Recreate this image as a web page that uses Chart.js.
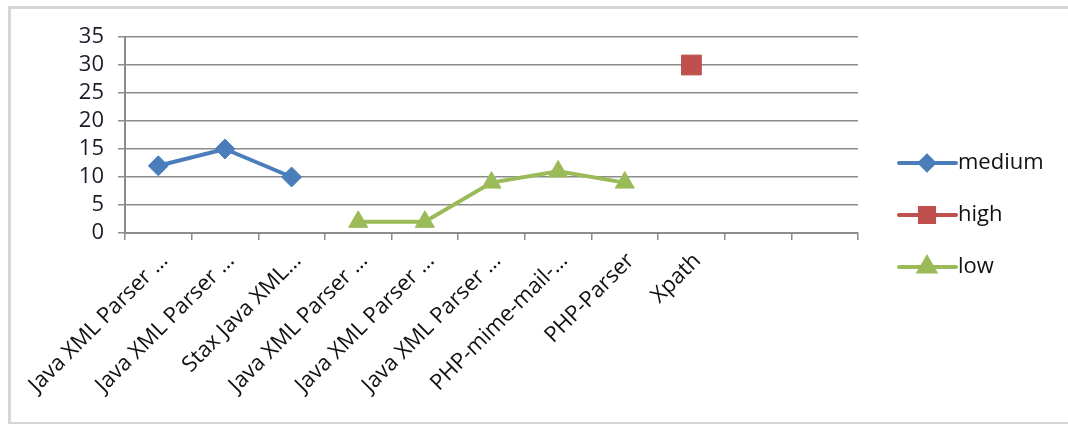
<!DOCTYPE html>
<html>
<head>
<meta charset="utf-8">
<script src="https://cdn.jsdelivr.net/npm/chart.js@4/dist/chart.umd.min.js"></script>
<style>
    html, body { margin: 0; padding: 0; background: #fff; overflow: hidden; }
    #wrap { position: relative; width: 1068px; height: 424px; overflow: hidden; }
    #frame {
        position: absolute; left: 8px; top: 6px; width: 1070px; height: 413px;
        border-left: 3px solid #d6d6d6; border-top: 3px solid #d6d6d6; border-bottom: 3px solid #d6d6d6;
        pointer-events: none;
    }
</style>
</head>
<body>
<div id="wrap">
    <canvas id="chart" width="1068" height="424"></canvas>
    <div id="frame"></div>
</div>
<script>
// Données
const categories = [
    'Java XML Parser …', 'Java XML Parser …', 'Stax Java XML…',
    'Java XML Parser …', 'Java XML Parser …', 'Java XML Parser …',
    'PHP-mime-mail-…', 'PHP-Parser', 'Xpath', '', ''
];
const mediumValues = [12, 15, 10, null, null, null, null, null, null, null, null];
const highValues = [null, null, null, null, null, null, null, null, 30, null, null];
const lowValues = [null, null, null, 2, 2, 9, 11, 9, null, null, null];
const yTicks = [0, 5, 10, 15, 20, 25, 30, 35];

const fontFamily = '"Open Sans", "Noto Sans", sans-serif';
const gridColor = '#8c8c8c';

// Légende dessinée à droite (ligne + marqueur + texte)
const sideLegend = {
    id: 'sideLegend',
    afterDraw(chart) {
        const ctx = chart.ctx;
        const rows = [163, 215, 267];
        chart.data.datasets.forEach((ds, i) => {
            const y = rows[i];
            ctx.save();
            ctx.strokeStyle = ds.borderColor;
            ctx.lineWidth = 4;
            ctx.lineCap = 'round';
            ctx.beginPath();
            ctx.moveTo(899, y);
            ctx.lineTo(956, y);
            ctx.stroke();
            Chart.helpers.drawPoint(ctx, {
                pointStyle: ds.pointStyle,
                radius: ds.legendRadius,
                borderWidth: 1
            }, 927, y);
            ctx.fillStyle = ds.borderColor;
            ctx.fill();
            ctx.fillStyle = '#111';
            ctx.font = '22px ' + fontFamily;
            ctx.textBaseline = 'middle';
            ctx.fillText(ds.label, 958, y);
            ctx.restore();
        });
    }
};

function makeSeries(label, data, color, style, radius, legendRadius) {
    return {
        label: label,
        data: data,
        borderColor: color,
        backgroundColor: color,
        pointBackgroundColor: color,
        pointBorderColor: color,
        borderWidth: 4,
        pointStyle: style,
        pointRadius: radius,
        legendRadius: legendRadius,
        pointBorderWidth: 1,
        spanGaps: false,
        tension: 0
    };
}

new Chart(document.getElementById('chart'), {
    type: 'line',
    data: {
        labels: categories,
        datasets: [
            makeSeries('medium', mediumValues, '#4a7ebb', 'rectRot', 10, 7),
            makeSeries('high', highValues, '#c0504d', 'rect', 14, 10),
            makeSeries('low', lowValues, '#9bbb59', 'triangle', 11, 9)
        ]
    },
    options: {
        responsive: false,
        animation: false,
        layout: { padding: { left: 12, top: 37, right: 210, bottom: 0 } },
        plugins: {
            legend: { display: false },
            tooltip: { enabled: false }
        },
        scales: {
            x: {
                offset: true,
                afterFit: function(scale) { scale.height = 191; },
                grid: {
                    offset: true,
                    drawOnChartArea: false,
                    drawTicks: true,
                    tickLength: 7,
                    color: gridColor,
                    lineWidth: 1.5
                },
                border: { color: gridColor, width: 2 },
                ticks: {
                    autoSkip: false,
                    maxRotation: 45,
                    minRotation: 45,
                    padding: 8,
                    labelOffset: 6,
                    color: '#111',
                    font: { family: fontFamily, size: 22 }
                }
            },
            y: {
                min: 0,
                max: 35,
                afterFit: function(scale) { scale.width = 113; },
                afterBuildTicks: function(scale) {
                    scale.ticks = yTicks.map(v => ({ value: v }));
                },
                grid: {
                    color: gridColor,
                    lineWidth: 1.5,
                    tickLength: 7
                },
                border: { color: gridColor, width: 2 },
                ticks: {
                    autoSkip: false,
                    padding: 14,
                    color: '#1c1c2a',
                    font: { family: fontFamily, size: 22 }
                }
            }
        }
    },
    plugins: [sideLegend]
});
</script>
</body>
</html>
